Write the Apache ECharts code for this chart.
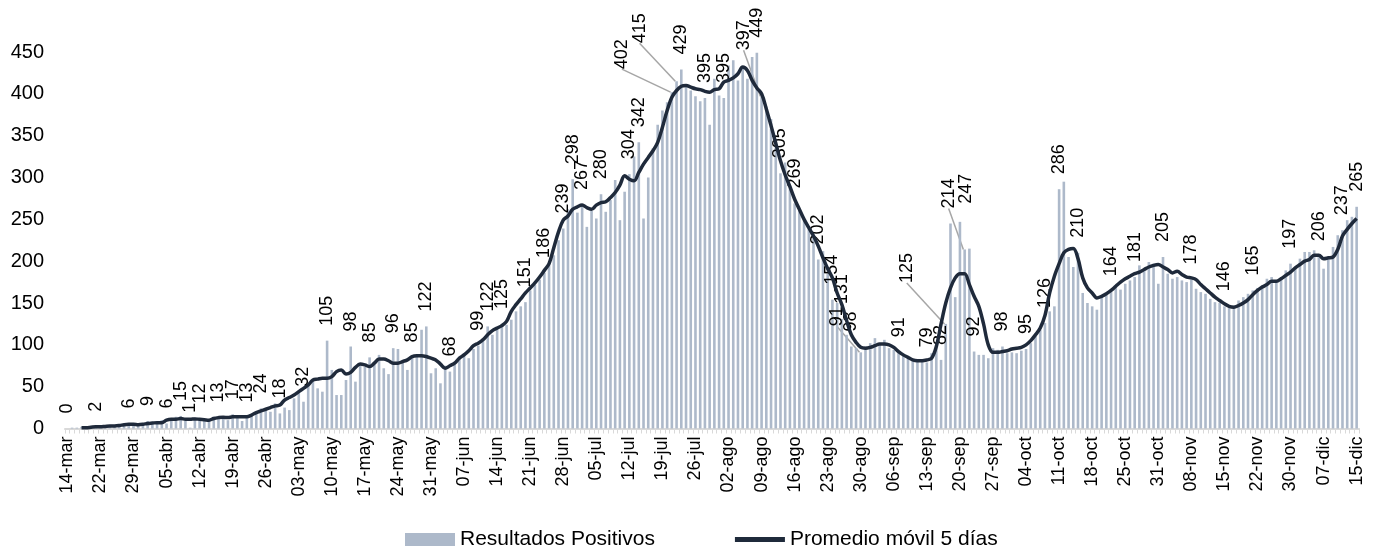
<!DOCTYPE html>
<html>
<head>
<meta charset="utf-8">
<script src="https://cdn.jsdelivr.net/npm/echarts@6/dist/echarts.min.js"></script>
<style>
html,body{margin:0;padding:0;background:#fff;}
#chart{width:1375px;height:548px;}
</style>
</head>
<body>
<div id="chart"></div>
<script>
// Tick labels shown every 7 categories on the x axis
const tickLabels = ['14-mar','22-mar','29-mar','05-abr','12-abr','19-abr','26-abr','03-may','10-may','17-may','24-may','31-may','07-jun','14-jun','21-jun','28-jun','05-jul','12-jul','19-jul','26-jul','02-ago','09-ago','16-ago','23-ago','30-ago','06-sep','13-sep','20-sep','27-sep','04-oct','11-oct','18-oct','25-oct','31-oct','08-nov','15-nov','22-nov','30-nov','07-dic','15-dic'];

// Daily positive results (274 reported days)
const positivos = [
  0,1,1,2,1,1,2,3,2,3,
  4,3,5,6,5,4,6,9,7,8,
  10,6,12,14,15,11,1,13,12,11,
  9,14,13,12,10,17,14,9,13,15,
  20,24,21,20,30,18,25,22,36,44,
  32,52,58,48,44,105,70,40,40,58,
  98,56,78,74,85,80,88,72,65,96,
  95,82,70,85,88,118,122,66,72,54,
  75,68,78,86,90,84,95,99,108,122,
  112,118,125,124,130,140,146,151,165,172,
  178,186,196,207,225,239,262,298,258,267,
  241,260,251,280,259,273,297,249,283,304,
  325,342,251,300,335,363,380,390,402,415,
  429,409,404,397,391,395,363,418,398,395,
  434,440,416,432,418,444,449,397,385,370,
  345,305,318,290,269,262,248,240,228,202,
  212,185,154,150,131,112,98,96,91,98,
  102,108,100,106,96,94,91,88,84,81,
  81,80,79,90,98,82,125,245,157,247,
  214,215,92,88,88,84,96,94,98,90,
  91,90,93,95,102,114,118,126,140,146,
  286,295,205,193,210,162,150,146,142,158,
  160,164,170,166,173,177,181,195,189,199,
  197,173,205,185,179,181,177,175,178,167,
  163,161,155,151,150,146,144,147,153,157,
  161,165,168,171,179,181,177,181,189,197,
  193,203,211,211,213,206,191,203,217,231,
  237,249,253,265
];

// 5-day moving average as drawn
const promedio = [
  null,null,null,1,1,1.5,2,2,2.5,3,
  3,3.5,4.5,5,5,4.5,5,6,6.5,7,
  7,10,11,11,12,11,11,11.5,11,10.5,
  10,12,13,13.5,13,14,14,14,14,16,
  19,21,23,25,27,28,34,37,40,44,
  48,52,58,59,60,60,62,68,70,65,
  67,73,77,76,74,78,83,83,81,78,
  78,80,82,86,87,87,86,84,82,77,
  72,75,78,84,88,93,99,102,106,112,
  117,120,123,128,140,148,155,162,168,174,
  181,189,197,216,235,249,254,262,265,267,
  264,262,267,270,271,276,282,291,302,298,
  296,306,316,324,332,342,360,380,396,404,
  409,410,408,406,405,403,402,405,406,414,
  416,419,424,432,428,416,407,400,382,362,
  341,320,303,289,274,262,250,240,230,218,
  204,191,180,162,148,129,112,103,97,96,
  97,99,101,101,100,97,92,88,85,82,
  81,81,82,84,98,125,150,168,180,185,
  185,172,158,146,125,100,91,91,92,93,
  95,96,97,100,105,112,120,135,162,182,
  197,210,214,215,203,180,168,162,156,158,
  161,165,170,175,179,182,185,187,190,193,
  195,196,193,190,186,188,184,181,180,178,
  172,167,162,157,153,149,146,145,147,150,
  154,160,165,169,172,176,176,179,183,187,
  192,196,200,202,207,207,203,204,205,214,
  230,238,245,251
];

// Days whose values are written above the bar
const labeledDays = [0,6,13,17,21,24,26,28,32,35,38,41,45,50,55,60,64,69,73,76,81,87,89,92,97,101,105,107,109,113,119,121,128,129,130,135,139,146,147,151,154,159,162,164,166,168,176,182,185,186,189,190,192,198,203,207,210,214,221,226,232,238,245,251,259,265,270,273];

const seriesNames = ['Resultados Positivos', 'Promedio móvil 5 días'];

// categories: consecutive day keys
const categories = positivos.map((v, i) => 'd' + i);

// screen displacement [right, down] of labels moved away from their bar
const labelShift = {128:[-50,-8],129:[-37,-23],147:[-18,-31],186:[-39,-26],190:[-16,-26],189:[6,-3],168:[-24,-11]};
const withLeader = {128:1,129:1,147:1,186:1,190:1,168:1};

const labeledSet = new Set(labeledDays);
const barData = positivos.map((v, i) => {
  if (!labeledSet.has(i)) return v;
  const item = {value: v, label: {show: true}};
  if (withLeader[i]) item.labelLine = {show: true};
  return item;
});

const FONT = '"Liberation Sans", Arial, sans-serif';
const chart = echarts.init(document.getElementById('chart'), null, {renderer: 'canvas'});
chart.setOption({
  animation: false,
  backgroundColor: '#ffffff',
  grid: {left: 65, right: 16, top: 52, bottom: 119.5, containLabel: false},
  legend: {
    left: 400, top: 524,
    itemWidth: 50, itemHeight: 13, itemGap: 80,
    textStyle: {fontFamily: FONT, fontSize: 21, color: '#000'},
    data: [
      {name: seriesNames[0], icon: 'rect'},
      {name: seriesNames[1], icon: 'path://M0,0H50V5H0Z'}
    ]
  },
  xAxis: {
    type: 'category',
    data: categories,
    boundaryGap: true,
    axisLine: {show: true, lineStyle: {color: '#d9d9d9', width: 2}},
    axisTick: {show: true, interval: 0, length: 5, lineStyle: {color: '#d9d9d9', width: 1}},
    axisLabel: {
      interval: 6, rotate: 90, margin: 8,
      fontFamily: FONT, fontSize: 18, color: '#000',
      formatter: (val, idx) => tickLabels[Math.round(idx / 7)] || ''
    }
  },
  yAxis: {
    type: 'value', min: 0, max: 450, interval: 50,
    axisLine: {show: false}, axisTick: {show: false}, splitLine: {show: false},
    axisLabel: {fontFamily: FONT, fontSize: 20, color: '#000', margin: 21}
  },
  series: [
    {
      name: seriesNames[0],
      type: 'bar',
      data: barData,
      barWidth: 2.6,
      itemStyle: {color: '#adb9ca'},
      label: {
        show: false, position: 'top', rotate: 90, distance: 15,
        align: 'left', verticalAlign: 'middle',
        fontFamily: FONT, fontSize: 18, color: '#000'
      },
      labelLine: {show: false, lineStyle: {color: '#a6a6a6', width: 1.5}},
      labelLayout: function (p) {
        const s = labelShift[p.dataIndex];
        // label is rotated 90deg: local x points up, local y points right
        return s ? {dx: -s[1], dy: s[0]} : {};
      },
      z: 2
    },
    {
      name: seriesNames[1],
      type: 'line',
      data: promedio,
      symbol: 'none',
      smooth: 0.35,
      connectNulls: false,
      lineStyle: {color: '#1f2a3b', width: 3.5},
      itemStyle: {color: '#1f2a3b'},
      z: 3
    }
  ]
});
</script>
</body>
</html>
